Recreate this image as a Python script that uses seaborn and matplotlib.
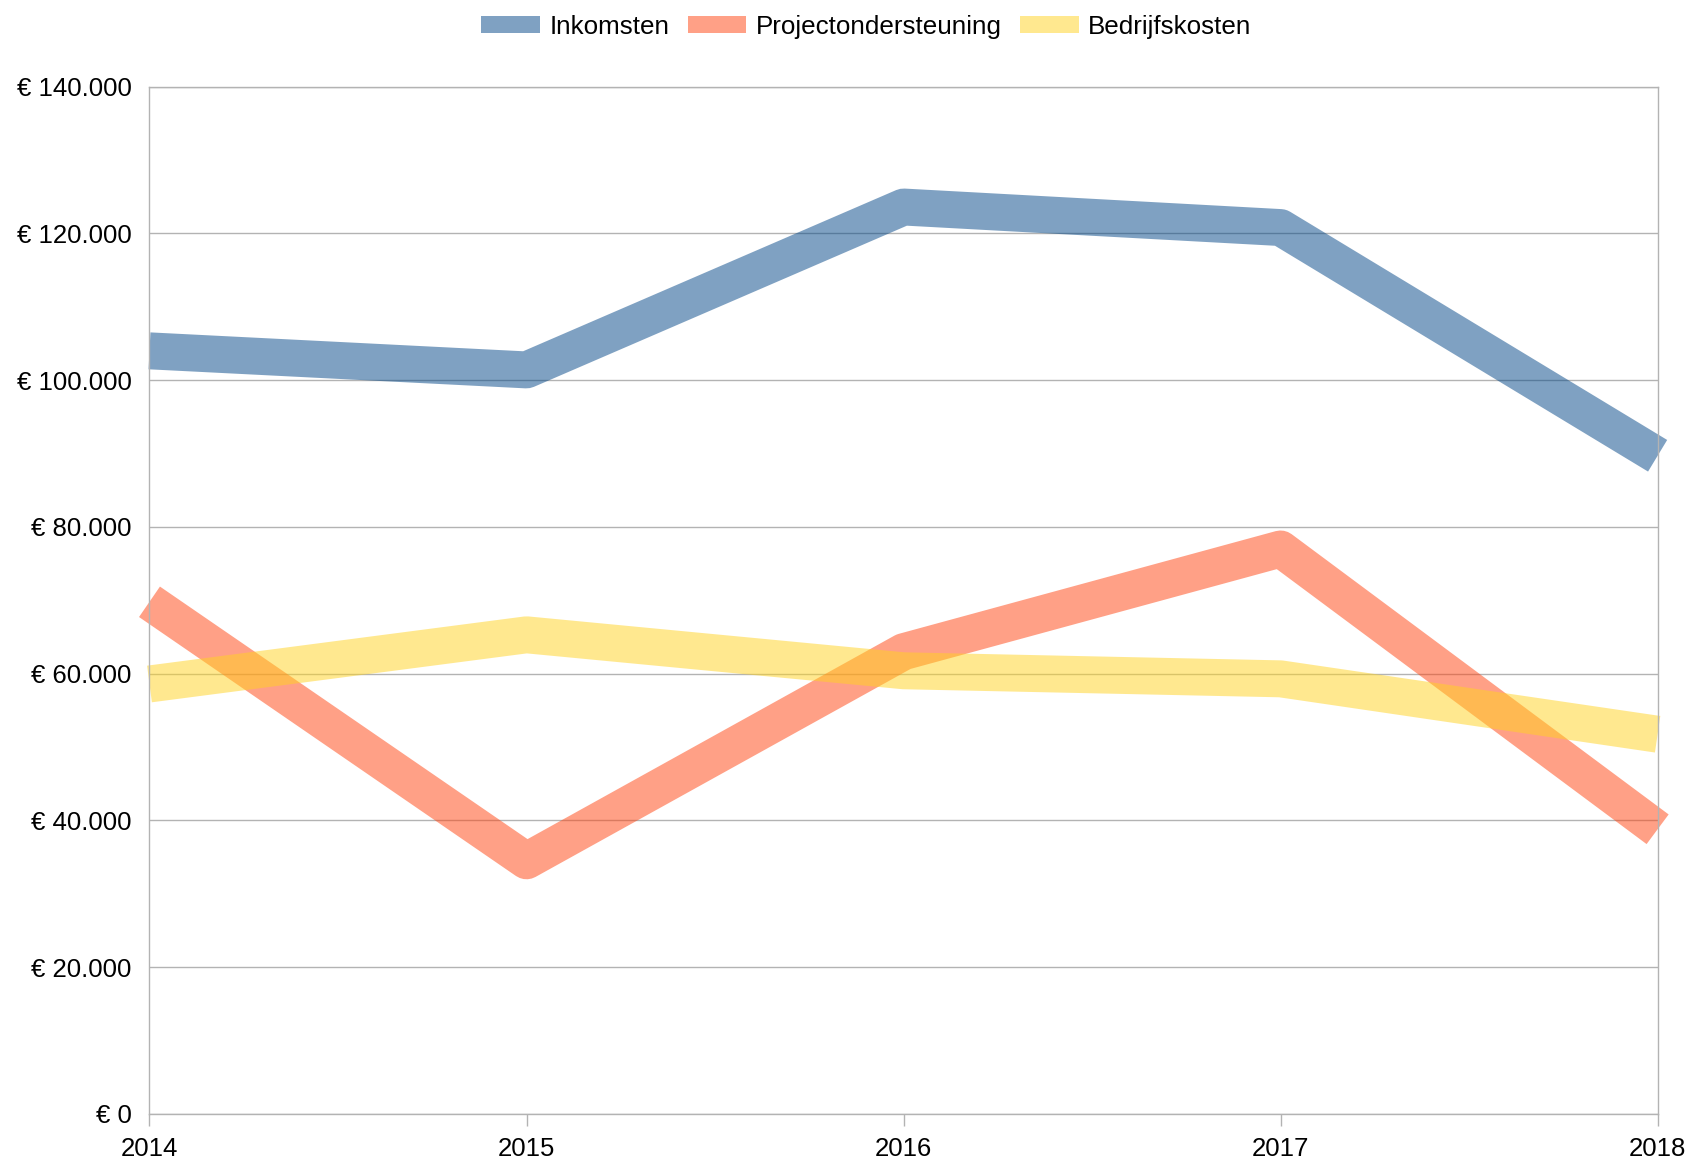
import matplotlib
matplotlib.use("Agg")
import matplotlib.pyplot as plt
from matplotlib.patches import Patch
from matplotlib.ticker import FuncFormatter
import pandas as pd
import seaborn as sns

# Data
years = [2014, 2015, 2016, 2017, 2018]
inkomsten = [104000, 101400, 123600, 120800, 89700]
projectondersteuning = [69800, 34500, 63000, 77000, 38800]
bedrijfskosten = [58600, 65300, 60400, 59300, 51750]

series_names = ["Inkomsten", "Projectondersteuning", "Bedrijfskosten"]
colors = ["#004586", "#ff420e", "#ffd320"]

df = pd.DataFrame({
    "jaar": years * 3,
    "waarde": inkomsten + projectondersteuning + bedrijfskosten,
    "reeks": [n for n in series_names for _ in years],
})

sns.set_theme(style="white")
plt.rcParams["font.family"] = ["Liberation Sans", "DejaVu Sans"]
plt.rcParams["text.color"] = "black"

fig = plt.figure(figsize=(16.93, 11.65), dpi=100)
ax = fig.add_axes([0.0883, 0.0438, 0.8908, 0.8818])

palette = dict(zip(series_names, colors))
sns.lineplot(
    data=df, x="jaar", y="waarde", hue="reeks", palette=palette,
    linewidth=26.6, alpha=0.5, legend=False, ax=ax,
    solid_joinstyle="round", solid_capstyle="butt", clip_on=False,
)

ax.set_xlim(2014, 2018)
ax.set_ylim(0, 140000)
ax.set_xticks(years)
ax.set_xticklabels([str(y) for y in years])
ax.set_yticks(range(0, 140001, 20000))
ax.yaxis.set_major_formatter(FuncFormatter(lambda v, p: "€ " + f"{v:,.0f}".replace(",", ".")))
ax.set_xlabel("")
ax.set_ylabel("")

ax.grid(axis="y", color="#b3b3b3", linewidth=1.0)
ax.set_axisbelow(True)
for side in ["left", "right", "bottom", "top"]:
    ax.spines[side].set_color("#b3b3b3")
    ax.spines[side].set_linewidth(1.0)

ax.tick_params(axis="x", bottom=True, length=8.6, width=1.0, color="#b3b3b3",
               pad=8, labelsize=18.5, labelcolor="black")
ax.tick_params(axis="y", left=False, pad=7, labelsize=18.5, labelcolor="black")

handles = [Patch(facecolor=c, alpha=0.5, edgecolor="none") for c in colors]
fig.legend(handles, series_names, loc="center", bbox_to_anchor=(0.5118, 0.977),
           ncol=3, frameon=False, fontsize=18.7, handlelength=2.25,
           handleheight=0.6, handletextpad=0.36, columnspacing=0.72)

fig.savefig("out.png", dpi=100)
